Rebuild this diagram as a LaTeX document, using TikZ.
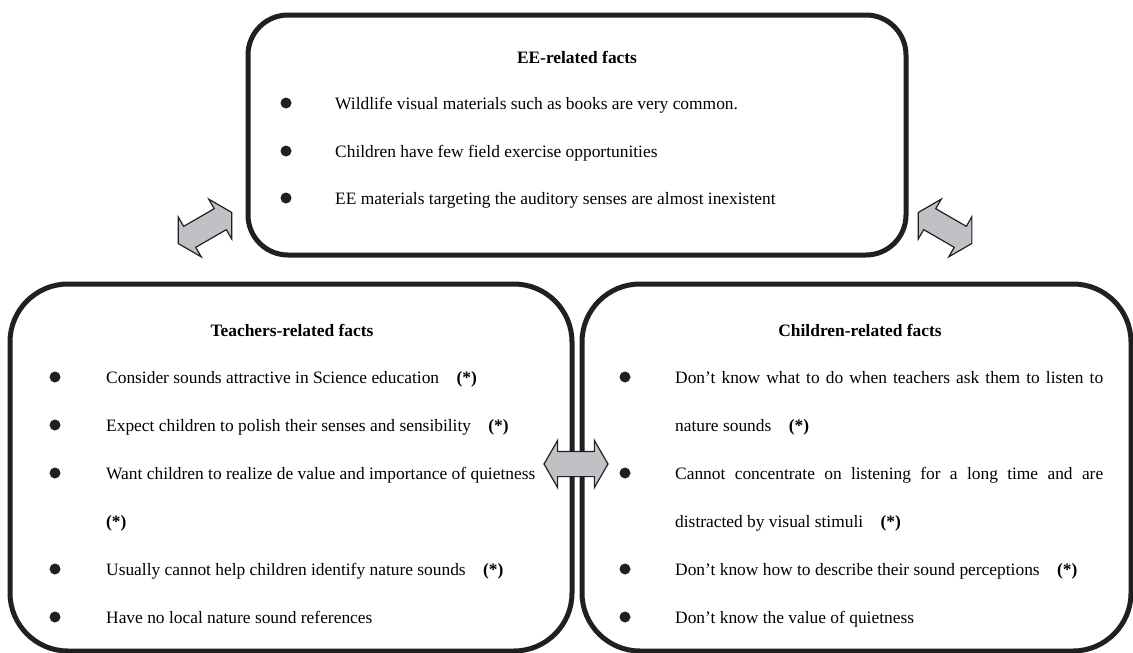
\documentclass[tikz,border=0pt]{standalone}
\usepackage{fontspec}
\setmainfont{Liberation Serif}
\usetikzlibrary{shapes.arrows,positioning,calc}
\definecolor{boxline}{RGB}{35,31,32}
\definecolor{arrowfill}{RGB}{192,192,197}

\begin{document}
\begin{tikzpicture}[x=1pt,y=-1pt,
    factbox/.style={draw=boxline,line width=5pt,rounded corners=40pt,inner sep=0pt},
    facttitle/.style={font=\fontsize{17.4}{20}\selectfont\bfseries,anchor=base,inner sep=0pt},
    facttext/.style={font=\fontsize{17.4}{20}\selectfont,anchor=base west,inner sep=0pt},
    dblarrow/.style={double arrow,draw=boxline,line width=1.2pt,fill=arrowfill,
        minimum height=62pt,double arrow head extend=11pt,
        double arrow tip angle=120,inner xsep=0pt,inner ysep=11.5pt}]

    \useasboundingbox (0,0) rectangle (1133,653);

    % BOXES
    \node[factbox,minimum width=658pt,minimum height=240pt] (ee) at (577,135) {};
    \node[factbox,rounded corners=58pt,minimum width=562pt,minimum height=367pt] (teach) at (291,467.5) {};
    \node[factbox,rounded corners=58pt,minimum width=549pt,minimum height=367pt] (child) at (856.5,467.5) {};

    % TITLES
    \node[facttitle] (eeT) at (577,63) {EE-related facts};
    \node[facttitle] (teachT) at (292,336) {Teachers-related facts};
    \node[facttitle] (childT) at (860,336) {Children-related facts};

    % EE FACTS
    \foreach \n/\y/\txt in {1/109/{Wildlife visual materials such as books are very common.},
                            2/157/{Children have few field exercise opportunities},
                            3/204/{EE materials targeting the auditory senses are almost inexistent}} {
        \fill[boxline] (286,\y-6) circle (5.5pt);
        \node[facttext] (ee\n) at (335,\y) {\txt};
    }

    % TEACHERS FACTS
    \foreach \y in {383,431,479,575,623} {
        \fill[boxline] (55,\y-6) circle (5.5pt);
    }
    \node[facttext] (teach1) at (106,383) {Consider sounds attractive in Science education\quad\textbf{(*)}};
    \node[facttext] (teach2) at (106,431) {Expect children to polish their senses and sensibility\quad\textbf{(*)}};
    \node[facttext] (teach3) at (106,479) {Want children to realize de value and importance of quietness};
    \node[facttext] (teach3b) at (106,527) {\textbf{(*)}};
    \node[facttext] (teach4) at (106,575) {Usually cannot help children identify nature sounds\quad\textbf{(*)}};
    \node[facttext] (teach5) at (106,623) {Have no local nature sound references};

    % CHILDREN FACTS
    \foreach \y in {383,479,575,623} {
        \fill[boxline] (625,\y-6) circle (5.5pt);
    }
    \node[facttext] (child1) at (675,383) {\makebox[428pt][s]{Don't know what to do when teachers ask them to listen to}};
    \node[facttext] (child1b) at (675,431) {nature sounds\quad\textbf{(*)}};
    \node[facttext] (child2) at (675,479) {\makebox[428pt][s]{Cannot concentrate on listening for a long time and are}};
    \node[facttext] (child2b) at (675,527) {distracted by visual stimuli\quad\textbf{(*)}};
    \node[facttext] (child3) at (675,575) {Don't know how to describe their sound perceptions\quad\textbf{(*)}};
    \node[facttext] (child4) at (675,623) {Don't know the value of quietness};

    % DOUBLE ARROWS
    \node[dblarrow,rotate=30] (teachee) at (205,228) {};
    \node[dblarrow,rotate=-30] (childee) at (945,228) {};
    \node[dblarrow,minimum height=64pt,inner ysep=12pt] (teachchild) at (576,464) {};

\end{tikzpicture}
\end{document}
